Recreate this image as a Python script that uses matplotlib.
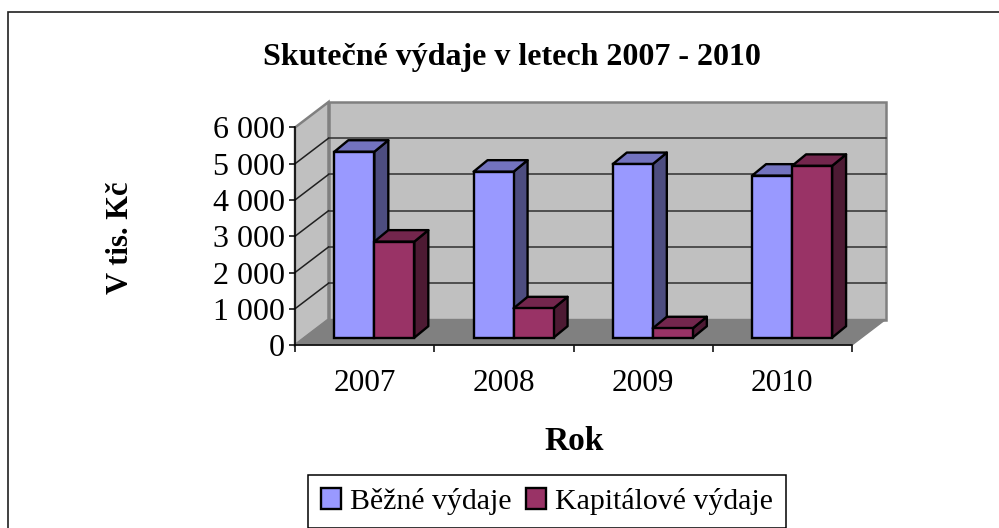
import matplotlib
matplotlib.use('Agg')
import matplotlib.pyplot as plt
from matplotlib.patches import Polygon, Rectangle
from matplotlib.transforms import Affine2D

years = ['2007', '2008', '2009', '2010']
bezne = [5130, 4580, 4790, 4470]
kapitalove = [2650, 810, 260, 4740]
y_ticks = [0, 1000, 2000, 3000, 4000, 5000, 6000]
y_labels = ['0', '1 000', '2 000', '3 000', '4 000', '5 000', '6 000']

W, H = 999, 528
plt.rcParams['font.family'] = ['Liberation Serif', 'DejaVu Serif']

fig = plt.figure(figsize=(W / 100, H / 100), dpi=100)
left, right, top, bottom = 295, 852, 127.5, 345
ax = fig.add_axes([left / W, 1 - bottom / H, (right - left) / W, (bottom - top) / H])
ax.set_xlim(0, 4)
ax.set_ylim(0, 6000)
ax.patch.set_visible(False)

def off(dx, dy):
    return ax.transData + Affine2D().translate(dx, dy)

# walls
DX, DY = 33.5, 25.5
wall = '#C0C0C0'
ax.add_patch(Polygon([(0, 0), (4, 0), (4, 6000), (0, 6000)], closed=True, fc=wall, ec='#808080', lw=1.8,
                     transform=off(DX, DY), zorder=1, clip_on=False))
side = [ax.transData.transform((0, 0)), ax.transData.transform((0, 6000)),
        off(DX, DY).transform((0, 6000)), off(DX, DY).transform((0, 0))]
ax.add_patch(Polygon(side, closed=True, fc=wall, ec='#808080', lw=1.8, transform=None, zorder=1, clip_on=False))
floor = [ax.transData.transform((0, 0)), ax.transData.transform((4, 0)),
         off(DX, DY).transform((4, 0)), off(DX, DY).transform((0, 0))]
ax.add_patch(Polygon(floor, closed=True, fc='#808080', ec='#808080', lw=1, transform=None, zorder=2, clip_on=False))

# gridlines on side wall and back wall
for v in y_ticks[1:-1]:
    ax.plot([0, 4], [v, v], color='#303030', lw=1.1, transform=off(DX, DY), zorder=3, clip_on=False)
    p0 = ax.transData.transform((0, v))
    p1 = off(DX, DY).transform((0, v))
    ax.plot([p0[0], p1[0]], [p0[1], p1[1]], color='#202020', lw=1.1, transform=None, zorder=3, clip_on=False)

# bars stand a bit inside the floor
BX, BY = 9.7, 7.3
DEPTH_X, DEPTH_Y = 14, 11.5
bar_w = 40 / ((right - left) / 4)
colors = [('#9999FF', '#7373BF', '#4D4D80'), ('#993366', '#73264D', '#4D1A33')]
base = off(BX, BY)
back = off(BX + DEPTH_X, BY + DEPTH_Y)
z = 4
handles = []
for i, year in enumerate(years):
    for j, vals in enumerate([bezne, kapitalove]):
        x0 = i + 0.5 + (j - 1) * bar_w
        x1 = x0 + bar_w
        v = vals[i]
        front, roof, flank = colors[j]
        a = base.transform((x1, 0)); b = base.transform((x1, v))
        c = back.transform((x1, v)); d = back.transform((x1, 0))
        e = base.transform((x0, v)); f = back.transform((x0, v))
        ax.add_patch(Polygon([a, b, c, d], closed=True, fc=flank, ec='black', lw=1.7, transform=None,
                             zorder=z, clip_on=False, joinstyle='round'))
        ax.add_patch(Polygon([e, b, c, f], closed=True, fc=roof, ec='black', lw=1.7, transform=None,
                             zorder=z, clip_on=False, joinstyle='round'))
        bars = ax.bar(x0, v, bar_w, align='edge', color=front, edgecolor='black', linewidth=1.7,
                      transform=base, zorder=z + 0.5, clip_on=False)
        if i == 0:
            handles.append(bars[0])
        z += 1

# axes
for s in ['top', 'right']:
    ax.spines[s].set_visible(False)
for s in ['left', 'bottom']:
    ax.spines[s].set_color('black')
    ax.spines[s].set_linewidth(1.1)
    ax.spines[s].set_zorder(3.5)
ax.set_yticks(y_ticks)
ax.set_yticklabels(y_labels, fontsize=23)
ax.set_xticks([0, 1, 2, 3, 4])
ax.set_xticklabels([])
ax.set_xticks([0.5, 1.5, 2.5, 3.5], labels=years, minor=True, fontsize=22.5)
ax.tick_params(axis='y', length=4, width=1.1, pad=3.5)
ax.tick_params(axis='x', which='major', length=6.5 * 0.72, width=1.1)
ax.tick_params(axis='x', which='minor', length=0, pad=17.5)

fig.text(512 / W, 1 - 57 / H, 'Skutečné výdaje v letech 2007 - 2010', fontsize=23, fontweight='bold',
         ha='center', va='center')
fig.text(574 / W, 1 - 442 / H, 'Rok', fontsize=24, fontweight='bold', ha='center', va='center')
fig.text(120 / W, 1 - 238 / H, 'V tis. Kč', fontsize=22, fontweight='bold', rotation=90, ha='center', va='center')

leg = fig.legend(handles, ['Běžné výdaje', 'Kapitálové výdaje'], ncol=2, fontsize=21.5,
                 loc='center', bbox_to_anchor=(547 / W, 1 - 501.5 / H), fancybox=False,
                 edgecolor='black', framealpha=1, handlelength=0.67, handleheight=0.67,
                 handletextpad=0.3, columnspacing=0.5, borderpad=0.42, borderaxespad=0)
leg.get_frame().set_linewidth(1.1)

# chart area frame runs off the image at right and bottom
fig.add_artist(Rectangle((8 / W, -0.1), 1.2, 1 - 12 / H + 0.1, transform=fig.transFigure, fc='none', ec='#202020', lw=1.2))

fig.savefig('out.png', dpi=100)
